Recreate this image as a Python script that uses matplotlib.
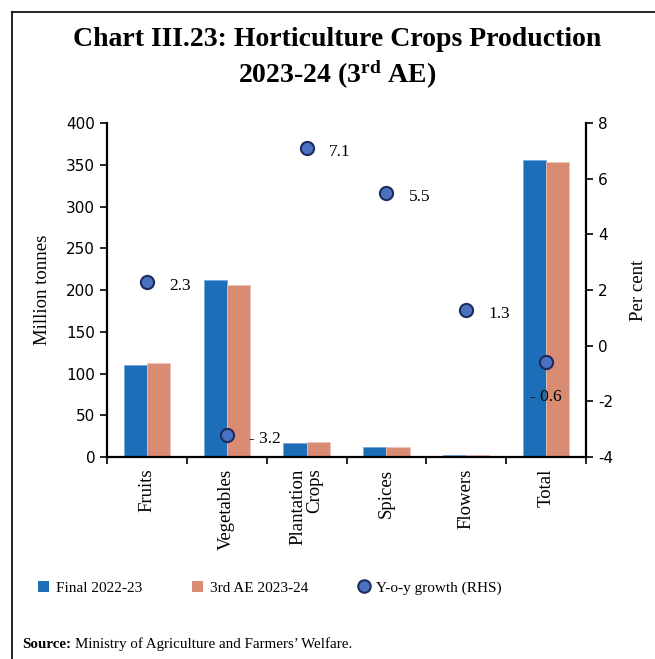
import matplotlib
matplotlib.use("Agg")
import matplotlib.pyplot as plt
from matplotlib.lines import Line2D
from matplotlib.patches import Patch
import numpy as np

categories = ["Fruits", "Vegetables", "Plantation\nCrops", "Spices", "Flowers", "Total"]
final_2022_23 = [110.2, 212.5, 16.4, 11.6, 3.0, 355.5]
ae3_2023_24 = [112.7, 205.8, 17.6, 12.3, 3.0, 353.2]
yoy_growth = [2.3, -3.2, 7.1, 5.5, 1.3, -0.6]

left_ticks = [0, 50, 100, 150, 200, 250, 300, 350, 400]
right_ticks = [-4, -2, 0, 2, 4, 6, 8]

BLUE = "#1B6EB7"
ORANGE = "#D98C74"
DOT_FACE = "#4A72C0"
DOT_EDGE = "#1E2B5E"
SERIF = "Liberation Serif"
SANS = "DejaVu Sans"

plt.rcParams["axes.unicode_minus"] = False
plt.rcParams["mathtext.fontset"] = "custom"
plt.rcParams["mathtext.rm"] = SERIF
plt.rcParams["mathtext.it"] = SERIF + ":italic"
plt.rcParams["mathtext.bf"] = SERIF + ":bold"

fig = plt.figure(figsize=(6.55, 6.59), dpi=100)
ax = fig.add_axes([0.1634, 0.3065, 0.7313, 0.5068])
ax2 = ax.twinx()

x = np.arange(len(categories))
w = 0.29
ax.bar(x - w / 2, final_2022_23, width=w, color=BLUE, edgecolor="#6FA6DA", linewidth=0.5)
ax.bar(x + w / 2, ae3_2023_24, width=w, color=ORANGE, edgecolor="#F0C2B2", linewidth=0.5)

ax.set_xlim(-0.5, len(categories) - 0.5)
ax.set_ylim(0, 400)
ax.set_yticks(left_ticks)
ax.set_xticks(np.arange(len(categories) + 1) - 0.5, minor=False)
ax.set_xticklabels([])
ax.tick_params(axis="x", length=5, width=1.2)
for xi, name in zip(x, categories):
    ax.text(xi, -0.035, name, transform=ax.get_xaxis_transform(), rotation=90,
            ha="center", va="top", multialignment="right",
            fontsize=13.5, family=SERIF, linespacing=1.0)

ax2.set_ylim(-4, 8)
ax2.set_yticks(right_ticks)
ax2.scatter(x, yoy_growth, s=90, color=DOT_FACE, edgecolor=DOT_EDGE, linewidth=1.5, zorder=5)
for xi, v in zip(x, yoy_growth):
    txt = f"- {abs(v):.1f}" if v < 0 else f"{v:.1f}"
    if categories[xi] == "Total":
        ax2.annotate(txt, (xi, v), xytext=(0, -25), textcoords="offset points",
                     ha="center", va="center", fontsize=12.5, family=SERIF)
    else:
        ax2.annotate(txt, (xi, v), xytext=(16, -3), textcoords="offset points",
                     ha="left", va="center", fontsize=12.5, family=SERIF)

for a in (ax, ax2):
    a.spines["top"].set_visible(False)
    for s in ("left", "right", "bottom"):
        a.spines[s].set_linewidth(1.6)
ax.spines["right"].set_visible(False)
ax2.spines["left"].set_visible(False)
ax2.spines["bottom"].set_visible(False)
ax.tick_params(axis="y", length=5, width=1.2, labelsize=11)
ax2.tick_params(axis="y", length=5, width=1.2, labelsize=11)
for lab in ax.get_yticklabels() + ax2.get_yticklabels():
    lab.set_family(SANS)

ax.set_ylabel("Million tonnes", fontsize=13.5, family=SERIF, labelpad=11)
ax2.set_ylabel("Per cent", fontsize=13.5, family=SERIF, labelpad=12)

fig.text(0.515, 1 - 40 / 659, "Chart III.23: Horticulture Crops Production",
         ha="center", va="center", fontsize=20, fontweight="bold", family=SERIF)
fig.text(0.515, 1 - 75 / 659, r"2023-24 (3$^{\mathbf{rd}}$ AE)",
         ha="center", va="center", fontsize=20, fontweight="bold", family=SERIF)

handles = [
    Patch(facecolor=BLUE, edgecolor="none"),
    Patch(facecolor=ORANGE, edgecolor="none"),
    Line2D([], [], marker="o", linestyle="none", markersize=9,
           markerfacecolor=DOT_FACE, markeredgecolor=DOT_EDGE, markeredgewidth=1.5),
]
labels = ["Final 2022-23", "3rd AE 2023-24", "Y-o-y growth (RHS)"]
fig.legend(handles, labels, loc="center", bbox_to_anchor=(0.412, 1 - 588 / 659),
           ncol=3, frameon=False, handlelength=0.7, handleheight=0.7,
           handletextpad=0.45, columnspacing=3.3, prop={"family": SERIF, "size": 11})

# source note: bold lead-in followed by the regular text
src = fig.text(22 / 655, 1 - 644 / 659, "Source:", ha="left", va="center",
               fontsize=10.8, fontweight="bold", family=SERIF)
fig.add_artist(plt.Annotation("Ministry of Agriculture and Farmers’ Welfare.", xy=(1, 0.5),
                              xycoords=src, xytext=(3, 0), textcoords="offset points",
                              ha="left", va="center", fontsize=10.8, family=SERIF))

# frame lines along the top and left edges
fig.add_artist(Line2D([12 / 655, 1], [1 - 12 / 659, 1 - 12 / 659], color="black", lw=1.2,
                      transform=fig.transFigure))
fig.add_artist(Line2D([12 / 655, 12 / 655], [0, 1 - 12 / 659], color="black", lw=1.2,
                      transform=fig.transFigure))

fig.savefig("out.png", dpi=100)
